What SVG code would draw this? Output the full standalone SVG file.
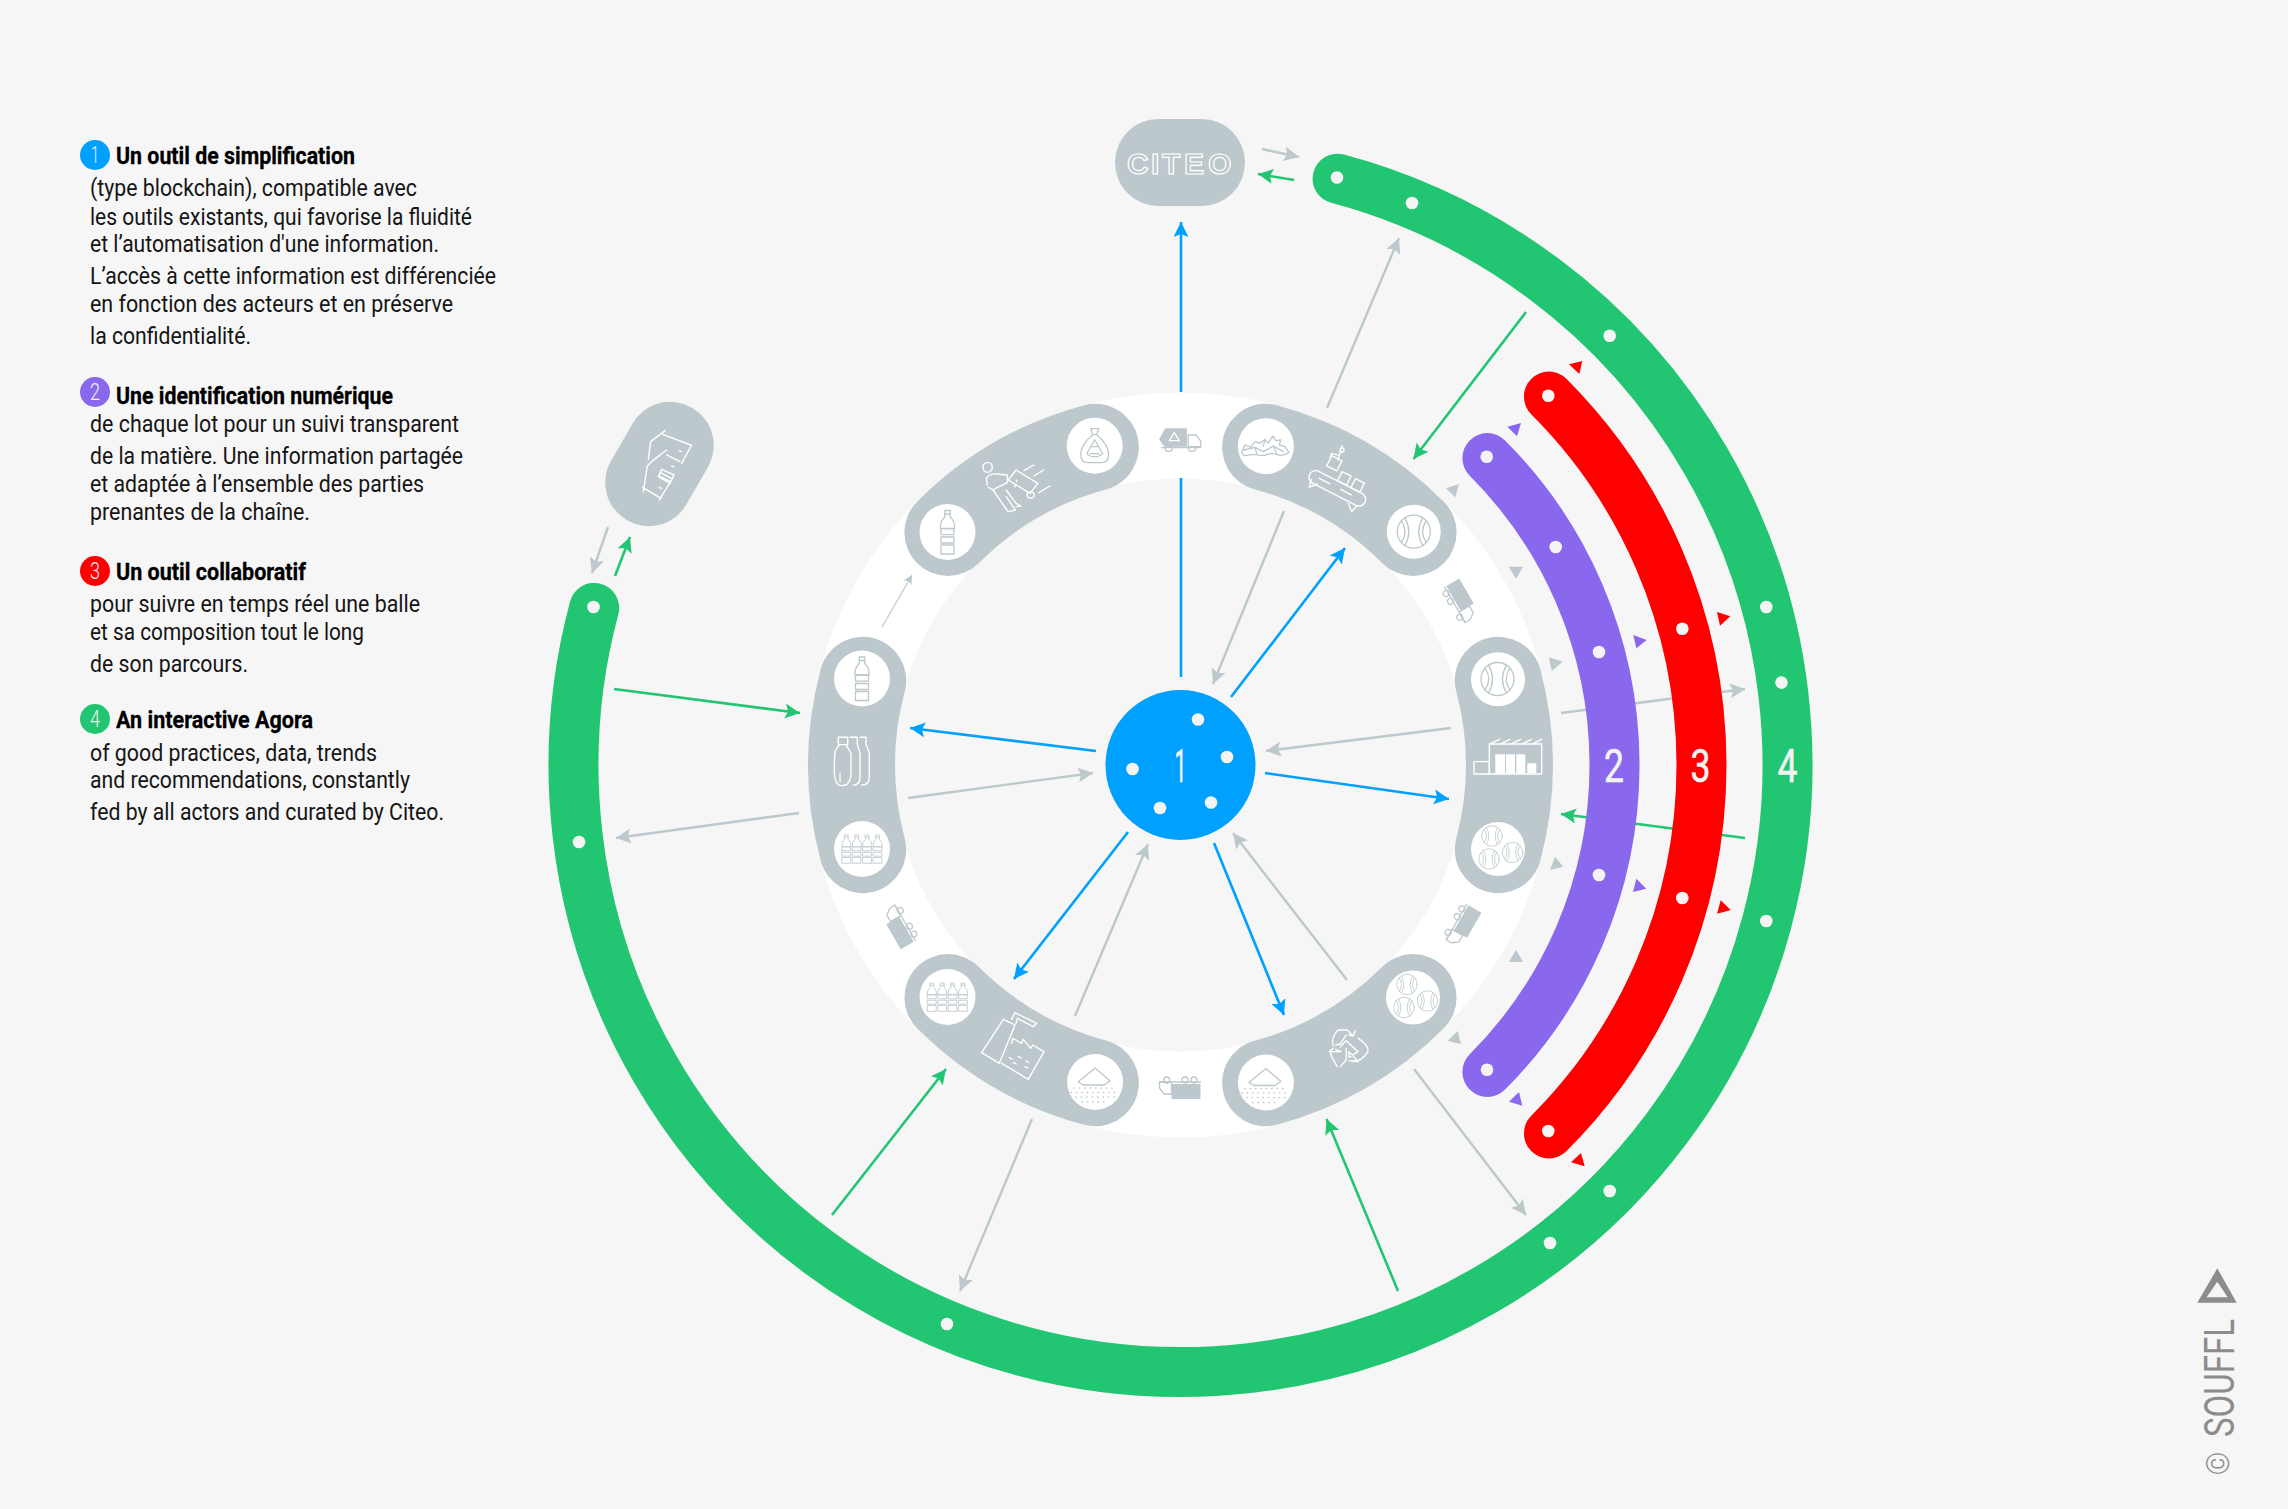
<svg xmlns="http://www.w3.org/2000/svg" width="2288" height="1509" viewBox="0 0 2288 1509">
<style>
text{font-family:"Liberation Sans Narrow","Roboto","Liberation Sans",sans-serif}
.t{font-size:23px;fill:#151515}
.b{font-size:24px;font-weight:700;fill:#000;stroke:#000;stroke-width:.3}
.n{fill:#f4f4f4;font-size:23px;text-anchor:middle;font-family:Roboto,"Liberation Sans",sans-serif;font-weight:300}
.big{fill:#f4f4f4;stroke:#f4f4f4;stroke-width:.6;font-size:47px;text-anchor:middle;font-family:Roboto,"Liberation Sans",sans-serif;font-weight:400}
.arc{fill:none;stroke-linecap:round}
.gr{stroke:#bcc8cc;stroke-width:87}
.hole{fill:#fff}
.dot{fill:#f4f4f4}
.w,.w *{fill:none;stroke:#fff;stroke-width:1.4;vector-effect:non-scaling-stroke;stroke-linecap:round;stroke-linejoin:round}
.i,.i *{fill:none;stroke:#bcc8cc;stroke-width:1.3;vector-effect:non-scaling-stroke;stroke-linecap:round;stroke-linejoin:round}
.c{fill:none}
.c-b{stroke:#00a0ff;stroke-width:2.6}
.c-g{stroke:#bcc8cc;stroke-width:2.4}
.c-v{stroke:#22c672;stroke-width:2.6}
.tg{fill:#bcc8cc}.tp{fill:#8968ee}.tr{fill:#ff0000}
</style>
<defs>
<marker id="mb" markerUnits="userSpaceOnUse" markerWidth="15" markerHeight="15" refX="15" refY="7.5" orient="auto"><path d="M15 7.5L0 0L3 7.5L0 15Z" fill="#00a0ff"/></marker>
<marker id="mg" markerUnits="userSpaceOnUse" markerWidth="15" markerHeight="15" refX="15" refY="7.5" orient="auto"><path d="M15 7.5L0 0L3 7.5L0 15Z" fill="#bcc8cc"/></marker>
<marker id="mv" markerUnits="userSpaceOnUse" markerWidth="15" markerHeight="15" refX="15" refY="7.5" orient="auto"><path d="M15 7.5L0 0L3 7.5L0 15Z" fill="#22c672"/></marker>
<marker id="ms" markerUnits="userSpaceOnUse" markerWidth="9" markerHeight="9" refX="9" refY="4.5" orient="auto"><path d="M9 4.5L0 0L2 4.5L0 9Z" fill="#bcc8cc"/></marker>
<g id="ball"><circle r="16.5"/><path d="M-9,-14 Q-1,0 -9,14M-12.5,-11 Q-5,0 -12.5,11M9,-14 Q1,0 9,14M12.5,-11 Q5,0 12.5,11"/></g>
<g id="ball3"><use href="#ball" transform="translate(-6,-13) scale(.62)"/><use href="#ball" transform="translate(-9,10) scale(.62)"/><use href="#ball" transform="translate(14.5,3.5) scale(.62)"/></g>
<g id="bottle"><rect x="-2.7" y="-21.5" width="5.4" height="3.5"/><path d="M-2.7,-18V-15Q-7,-11-7,-6V-3.5H7V-6Q7,-11 2.7,-15V-18"/><rect x="-6.5" y="-3.3" width="13" height="6"/><rect x="-6.5" y="5" width="13" height="6"/><rect x="-6.5" y="13" width="13" height="9"/></g>
<g id="bottle4"><use href="#bottle" transform="translate(-15.6,0) scale(.65)"/><use href="#bottle" transform="translate(-5.2,0) scale(.65)"/><use href="#bottle" transform="translate(5.2,0) scale(.65)"/><use href="#bottle" transform="translate(15.6,0) scale(.65)"/></g>
<g id="powder"><path d="M-17,0L0,-14L15,-1L9,3L-12,3Z"/><path d="M-21,6h42M-24,10.5h48M-19,15h38M-13,20h26" stroke-dasharray="0.1 5.3" style="stroke-width:1.7"/></g>
<g id="truck"><rect x="-20.5" y="-11" width="29" height="15" fill="#bcc8cc" stroke="none"/><path d="M8.5,-6H16L20.5,0V6H8.5Z" class="i"/><path d="M-20.5,6H20.5" class="i"/><circle cx="13.3" cy="8" r="3" class="i"/><circle cx="-5" cy="8" r="3" class="i"/><circle cx="-14" cy="8" r="3" class="i"/></g>
</defs>
<rect width="2288" height="1509" fill="#f6f6f6"/>
<g id="legend">
<g><circle cx="95" cy="155" r="15" fill="#00a0ff"/><text class="n" x="95" y="163" textLength="8" lengthAdjust="spacingAndGlyphs">1</text>
<text class="b" x="116" y="164" textLength="239" lengthAdjust="spacingAndGlyphs">Un outil de simplification</text>
<text class="t" x="90" y="196" textLength="327" lengthAdjust="spacingAndGlyphs">(type blockchain), compatible avec</text>
<text class="t" x="90" y="224.5" textLength="382" lengthAdjust="spacingAndGlyphs">les outils existants, qui favorise la fluidité</text>
<text class="t" x="90" y="252" textLength="349" lengthAdjust="spacingAndGlyphs">et l’automatisation d'une information.</text>
<text class="t" x="90" y="284" textLength="406" lengthAdjust="spacingAndGlyphs">L’accès à cette information est différenciée</text>
<text class="t" x="90" y="312" textLength="363" lengthAdjust="spacingAndGlyphs">en fonction des acteurs et en préserve</text>
<text class="t" x="90" y="343.5" textLength="161" lengthAdjust="spacingAndGlyphs">la confidentialité.</text></g>
<g><circle cx="95" cy="392" r="15" fill="#8968ee"/><text class="n" x="95" y="400" textLength="10" lengthAdjust="spacingAndGlyphs">2</text>
<text class="b" x="116" y="403.5" textLength="277" lengthAdjust="spacingAndGlyphs">Une identification numérique</text>
<text class="t" x="90" y="432" textLength="369" lengthAdjust="spacingAndGlyphs">de chaque lot pour un suivi transparent</text>
<text class="t" x="90" y="464" textLength="373" lengthAdjust="spacingAndGlyphs">de la matière. Une information partagée</text>
<text class="t" x="90" y="492" textLength="334" lengthAdjust="spacingAndGlyphs">et adaptée à l’ensemble des parties</text>
<text class="t" x="90" y="520" textLength="220" lengthAdjust="spacingAndGlyphs">prenantes de la chaîne.</text></g>
<g><circle cx="95" cy="571" r="15" fill="#ff0000"/><text class="n" x="95" y="579" textLength="10" lengthAdjust="spacingAndGlyphs">3</text>
<text class="b" x="116" y="580" textLength="190" lengthAdjust="spacingAndGlyphs">Un outil collaboratif</text>
<text class="t" x="90" y="612" textLength="330" lengthAdjust="spacingAndGlyphs">pour suivre en temps réel une balle</text>
<text class="t" x="90" y="640" textLength="274" lengthAdjust="spacingAndGlyphs">et sa composition tout le long</text>
<text class="t" x="90" y="672" textLength="158" lengthAdjust="spacingAndGlyphs">de son parcours.</text></g>
<g><circle cx="95" cy="719" r="15" fill="#22c672"/><text class="n" x="95" y="727" textLength="10" lengthAdjust="spacingAndGlyphs">4</text>
<text class="b" x="116" y="728" textLength="197" lengthAdjust="spacingAndGlyphs">An interactive Agora</text>
<text class="t" x="90" y="760.5" textLength="287" lengthAdjust="spacingAndGlyphs">of good practices, data, trends</text>
<text class="t" x="90" y="788" textLength="320" lengthAdjust="spacingAndGlyphs">and recommendations, constantly</text>
<text class="t" x="90" y="820" textLength="354" lengthAdjust="spacingAndGlyphs">fed by all actors and curated by Citeo.</text></g>
</g>
<g id="ring"><circle cx="1180.5" cy="765" r="329.5" fill="none" stroke="#fff" stroke-width="86"/></g>
<g id="connectors" class="c">
<path class="c-b" d="M1181 677V478"/><path class="c-b" d="M1181 392V222" marker-end="url(#mb)"/>
<path class="c-b" d="M1231 697L1345 548" marker-end="url(#mb)"/>
<path class="c-b" d="M1096 751L910 728" marker-end="url(#mb)"/>
<path class="c-b" d="M1265 773L1449 799" marker-end="url(#mb)"/>
<path class="c-b" d="M1128 832L1014 979" marker-end="url(#mb)"/>
<path class="c-b" d="M1214 843L1284 1015" marker-end="url(#mb)"/>
<path class="c-g" d="M1451 728L1266 751" marker-end="url(#mg)"/>
<path class="c-g" d="M1284 511L1213 684" marker-end="url(#mg)"/>
<path class="c-g" d="M908 798L1093 773" marker-end="url(#mg)"/>
<path class="c-g" d="M1075 1016L1148 844" marker-end="url(#mg)"/>
<path class="c-g" d="M1347 980L1233 833" marker-end="url(#mg)"/>
<path class="c-g" d="M1327 408L1399 238" marker-end="url(#mg)"/>
<path class="c-g" d="M1561 713L1745 689" marker-end="url(#mg)"/>
<path class="c-g" d="M1414 1069L1526 1215" marker-end="url(#mg)"/>
<path class="c-g" d="M1032 1119L960 1291" marker-end="url(#mg)"/>
<path class="c-g" d="M799 813L616 838" marker-end="url(#mg)"/>
<path class="c-g" style="stroke-width:1.2" d="M882 627L912 575" marker-end="url(#ms)"/>
<path class="c-g" d="M1262 149L1299 157" marker-end="url(#mg)"/>
<path class="c-g" d="M608 527L592 573" marker-end="url(#mg)"/>
<path class="c-v" d="M1526 312L1413.5 459" marker-end="url(#mv)"/>
<path class="c-v" d="M1745 838L1561 814" marker-end="url(#mv)"/>
<path class="c-v" d="M1398 1291L1326.5 1119" marker-end="url(#mv)"/>
<path class="c-v" d="M832 1215L946 1069" marker-end="url(#mv)"/>
<path class="c-v" d="M614 689L800 713" marker-end="url(#mv)"/>
<path class="c-v" d="M1294 180L1258 174" marker-end="url(#mv)"/>
<path class="c-v" d="M615 576L630 537" marker-end="url(#mv)"/>
</g>
<g id="markers">
<polygon class="tg" points="1446,488.3 1459,484 1455.3,497.3"/>
<polygon class="tg" points="1508.7,566.7 1523,566.7 1516,578.7"/>
<polygon class="tg" points="1549,657.3 1562.7,661.7 1551.7,671"/>
<polygon class="tg" points="1550,870 1563.3,866.7 1555,856.7"/>
<polygon class="tg" points="1509,962 1523,962 1516,949.7"/>
<polygon class="tg" points="1447.7,1040.7 1461,1044.3 1457.7,1031"/>
<polygon class="tp" points="1507.3,426.7 1521,423 1517,436.3"/>
<polygon class="tp" points="1633.3,635 1646.7,640 1636.3,648.3"/>
<polygon class="tp" points="1633,892 1646.3,888.7 1636.3,878.7"/>
<polygon class="tp" points="1509,1101.7 1522.3,1105.7 1519,1092"/>
<polygon class="tr" points="1569,364.3 1582.3,361 1579.3,374"/>
<polygon class="tr" points="1717,612 1730.3,616.3 1720,625.7"/>
<polygon class="tr" points="1717,913.7 1730.7,910 1720.7,900.3"/>
<polygon class="tr" points="1571,1162.3 1584.7,1166.3 1581,1153"/>
</g>
<g id="node-1">
<circle cx="1180.5" cy="765" r="75" fill="#00a0ff"/>
<circle class="dot" cx="1198" cy="719.5" r="6.3"/><circle class="dot" cx="1227" cy="757" r="6.3"/><circle class="dot" cx="1211" cy="802.5" r="6.3"/><circle class="dot" cx="1160" cy="808" r="6.3"/><circle class="dot" cx="1132.5" cy="769" r="6.3"/>
<text class="big" x="1180.5" y="782" textLength="12" lengthAdjust="spacingAndGlyphs">1</text>
</g>
<g id="node-citeo">
<rect x="1115" y="119" width="130" height="87" rx="43.5" fill="#bcc8cc"/>
<text x="1127 1151 1162 1184 1208" y="174" font-size="30" style="font-family:'Liberation Sans',sans-serif;font-weight:700;fill:none;stroke:#fff;stroke-width:1.2">CITEO</text>
</g>
<g id="node-house">
<rect x="594.5" y="420.5" width="130" height="87" rx="43.5" fill="#bcc8cc" transform="rotate(-60 659.5 464)"/>
<g class="w" transform="translate(560 380) scale(.3333)"><path d="M315,152L272,185L265,238M308,163L392,195M395,195L365,250M320,210L278,242L262,258L250,335M320,225L360,245M248,322L303,355M298,360L335,300M295,290L305,268L342,285L330,310ZM301,278L335,295M297,288L331,304M358,212l6,3M335,258l6,3M298,322l6,3"/></g>
</g>
<g id="node-sorting">
<path class="arc gr" d="M1265.65 447.2A329 329 0 0 1 1413.1 532.4"/>
<circle class="hole" cx="1265.9" cy="446.2" r="28"/><circle class="hole" cx="1413.8" cy="531.7" r="27"/>
<g class="i" transform="translate(1240 410) scale(.3333)"><path d="M5,128L15,105L32,112L45,95L60,100L75,88L85,100L98,78L108,92L122,90L118,105L135,110L147,128L125,137L95,130L70,137L40,133L12,137ZM12,120L45,112L70,125L100,108L130,125M45,112L50,130M75,88L70,108M100,108L110,130"/></g>
<use href="#ball" class="i" x="1413.8" y="531.7"/>
<g class="w" transform="translate(1240 410) scale(.3333)"><rect x="-93" y="-20" width="186" height="40" rx="20" transform="translate(292 235) rotate(27)"/><path d="M238,205L345,260" stroke-dasharray="12 12"/><path d="M232,222L208,232L214,208M325,280L335,305L350,288"/><rect x="-15" y="-15" width="30" height="30" transform="translate(313 205) rotate(27)"/><rect x="-15" y="-15" width="30" height="30" transform="translate(353 226) rotate(27)"/><rect x="-17" y="-17" width="34" height="34" transform="translate(283 160) rotate(27)"/><path d="M270,143L275,130L298,136L294,150M298,136L302,125"/><circle cx="306" cy="120" r="6"/><path d="M306,114V107"/></g>
</g>
<g id="node-plant">
<path class="arc gr" d="M1498.3 680.35A329 329 0 0 1 1498.3 849.65"/>
<circle class="hole" cx="1498" cy="679.3" r="27"/><circle class="hole" cx="1498" cy="849" r="27"/>
<use href="#ball" class="i" x="1497.5" y="679"/>
<use href="#ball3" class="i" x="1498" y="849"/>
<g class="w" transform="translate(1380 600) scale(.3333)"><rect x="282" y="485" width="46" height="37"/><rect x="328" y="432" width="157" height="90"/><path d="M330,432L358,418M362,432L390,418M394,432L422,418M426,432L454,418M458,432L485,418"/></g>
<g fill="#fff"><rect x="1495.3" y="754.3" width="9.7" height="19.3"/><rect x="1506" y="754.3" width="9" height="19.3"/><rect x="1516.3" y="754.3" width="9" height="19.3"/><rect x="1527.3" y="763.3" width="9" height="10"/></g>
</g>
<g id="node-recycling">
<path class="arc gr" d="M1413.1 997.6A329 329 0 0 1 1265.65 1082.8"/>
<circle class="hole" cx="1413" cy="997.5" r="27"/><circle class="hole" cx="1265.9" cy="1082.5" r="28"/>
<use href="#ball3" class="i" x="1413" y="997.5"/>
<use href="#powder" class="i" x="1265.9" y="1082.5"/>
<g class="w" transform="translate(850 920) scale(.3954 .3333)"><path d="M1222,378Q1216,350 1235,330L1258,330L1272,348L1262,345M1272,348L1278,332M1232,440L1218,410Q1212,395 1222,385L1212,395L1242,395L1228,388M1240,380L1255,362L1285,395L1262,412M1262,412L1262,395L1285,425L1262,422M1285,355Q1312,375 1310,395Q1295,425 1270,425M1255,345L1240,372L1228,375M1240,440L1255,420L1255,385"/></g>
</g>
<g id="node-pellets">
<path class="arc gr" d="M1095.35 1082.8A329 329 0 0 1 947.9 997.6"/>
<circle class="hole" cx="1095.1" cy="1082" r="28"/><circle class="hole" cx="947.5" cy="997" r="28"/>
<use href="#powder" class="i" x="1095.1" y="1082"/>
<use href="#bottle4" class="i" x="947.5" y="997"/>
<g class="w" transform="translate(940 960) scale(.3333)"><path d="M190,178L225,195L178,310L125,278ZM215,178L225,158L290,190L280,200L232,175L228,190M215,250L218,235L245,250L250,238L272,265L278,255L312,275L265,358L185,310M208,293l8,4M235,290l8,4M258,303l8,4M220,308l8,4M255,320l8,4"/></g>
</g>
<g id="node-preform">
<path class="arc gr" d="M862.7 849.65A329 329 0 0 1 862.7 680.35"/>
<circle class="hole" cx="862" cy="849" r="28"/><circle class="hole" cx="862" cy="678.5" r="28"/>
<use href="#bottle4" class="i" x="862" y="849"/>
<use href="#bottle" class="i" x="862" y="678.5"/>
<g class="w" transform="translate(780 620) scale(.3333)"><rect x="175" y="352" width="28" height="22"/><path d="M178,374L165,395Q163,420 163,450Q163,497 185,497Q213,497 213,455L213,400L198,374M210,352H232V372L240,400V470Q240,495 220,495M240,352H258V372L268,400V470Q268,495 245,495M180,460V485"/></g>
</g>
<g id="node-collect">
<path class="arc gr" d="M947.9 532.4A329 329 0 0 1 1095.35 447.2"/>
<circle class="hole" cx="947.5" cy="532" r="28"/><circle class="hole" cx="1094.7" cy="445.7" r="28"/>
<use href="#bottle" class="i" x="947.5" y="532"/>
<g class="i" transform="translate(1094.7 445.7)"><path d="M-4,-17H4L2,-11H-2ZM-2,-11Q-13,-2-14,8Q-14,17-7,17H7Q14,17 14,8Q13,-2 2,-11M0,-6L8,8L3,11H-3L-8,8ZM-3,1L3,1M-4,8L4,8"/></g>
<g class="w" transform="translate(850 380) scale(.3954 .3333)"><ellipse cx="348" cy="262" rx="12" ry="15"/><path d="M347,315L345,295Q352,280 372,282L395,285M360,330L398,308L398,285M362,330L385,370L400,395L418,390L395,350M395,330L420,370L432,378L420,380M350,322L362,330M400,300L420,270L475,310L455,340ZM420,300l2,4M416,316l2,4M440,272L465,255M465,288L490,270M478,338L505,318"/><ellipse cx="457" cy="345" rx="9" ry="9"/></g>
</g>
<g id="trucks">
<g transform="translate(850 380) scale(.3954 .3333)"><path d="M782,178L797,145H852V200H795Z" fill="#bcc8cc"/><g class="i"><path d="M855,165H875L887,183V200H855Z"/><path d="M788,203H887"/><ellipse cx="806" cy="207" rx="9" ry="7"/><ellipse cx="865" cy="207" rx="9" ry="7"/></g><path d="M820,158L833,182H808Z" fill="none" stroke="#fff" stroke-width="1.3" vector-effect="non-scaling-stroke"/></g>
<use href="#truck" transform="translate(1460 601.7) rotate(60)"/>
<use href="#truck" transform="translate(1461.7 925) rotate(120)"/>
<use href="#truck" transform="translate(1180 1088) rotate(180)"/>
<use href="#truck" transform="translate(900 926) rotate(240)"/>
</g>
<g id="band-2">
<path class="arc" stroke="#8968ee" stroke-width="50" d="M1487.4 458.1A434 434 0 0 1 1487.4 1071.9"/>
<circle class="dot" cx="1486.7" cy="456.7" r="6.3"/><circle class="dot" cx="1555.7" cy="547" r="6.3"/><circle class="dot" cx="1599" cy="652" r="6.3"/><circle class="dot" cx="1599" cy="875" r="6.3"/><circle class="dot" cx="1487" cy="1069.7" r="6.3"/>
<text class="big" x="1614" y="782" textLength="20" lengthAdjust="spacingAndGlyphs">2</text>
</g>
<g id="band-3">
<path class="arc" stroke="#ff0000" stroke-width="50" d="M1548.9 396.6A521 521 0 0 1 1548.9 1133.4"/>
<circle class="dot" cx="1548.3" cy="395.7" r="6.3"/><circle class="dot" cx="1682.3" cy="628.7" r="6.3"/><circle class="dot" cx="1682.3" cy="898" r="6.3"/><circle class="dot" cx="1548.3" cy="1131" r="6.3"/>
<text class="big" x="1700.5" y="782" textLength="20" lengthAdjust="spacingAndGlyphs">3</text>
</g>
<g id="band-4">
<path class="arc" stroke="#22c672" stroke-width="50" d="M1337.6 178.7A607 607 0 1 1 594.2 607.9"/>
<circle class="dot" cx="1337" cy="177.5" r="6.3"/><circle class="dot" cx="1412" cy="203" r="6.3"/><circle class="dot" cx="1609.7" cy="335.8" r="6.3"/><circle class="dot" cx="1766.3" cy="607" r="6.3"/><circle class="dot" cx="1781.5" cy="682.6" r="6.3"/><circle class="dot" cx="1766.3" cy="921" r="6.3"/><circle class="dot" cx="1609.7" cy="1191" r="6.3"/><circle class="dot" cx="1550" cy="1243" r="6.3"/><circle class="dot" cx="947" cy="1324" r="6.3"/><circle class="dot" cx="579" cy="842" r="6.3"/><circle class="dot" cx="593.5" cy="607" r="6.3"/>
<text class="big" x="1787.5" y="782" textLength="20" lengthAdjust="spacingAndGlyphs">4</text>
</g>
<g id="credit" fill="#8c8c8c">
<path fill-rule="evenodd" d="M2217.3 1268.3L2236.7 1302.7H2197.3ZM2217.3 1281.7L2206.7 1297.3H2227.7Z"/>
<text x="0" y="0" transform="translate(2233.5 1437) rotate(-90)" font-size="42" textLength="118" lengthAdjust="spacingAndGlyphs" style="font-family:Roboto,sans-serif;font-weight:400">SOUFFL</text>
<text x="0" y="0" transform="translate(2229 1475.5) rotate(-90)" font-size="32" textLength="24" lengthAdjust="spacingAndGlyphs" style="font-family:Roboto,sans-serif;font-weight:300">©</text>
</g>
</svg>
